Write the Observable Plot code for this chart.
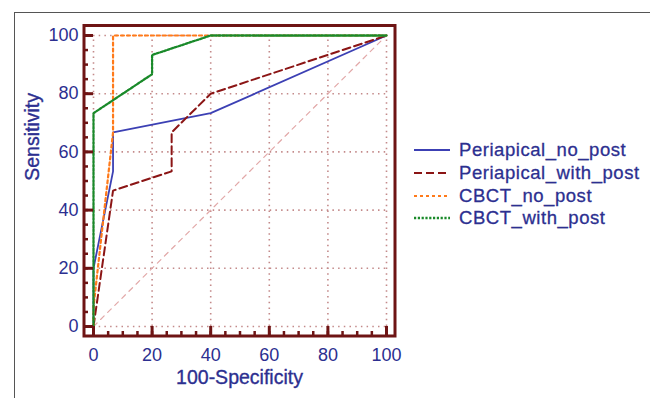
<!DOCTYPE html>
<html><head><meta charset="utf-8">
<script src="https://cdn.jsdelivr.net/npm/d3@7"></script>
<script src="https://cdn.jsdelivr.net/npm/@observablehq/plot@0.6"></script>
<style>
body{margin:0;background:#fff;font-family:"Liberation Sans",Arial,sans-serif;}
#wrap{position:relative;width:650px;height:398px;overflow:hidden;}
#outer{position:absolute;left:14px;top:12px;width:700px;height:400px;border-top:1.5px solid #555;border-left:1.5px solid #555;}
#chart{position:absolute;left:0;top:0;}
#legend{position:absolute;left:414px;top:139px;}
.row{display:flex;align-items:center;height:22.7px;}
.row span{font-size:18.5px;letter-spacing:0.55px;color:#2c2f90;margin-left:9px;white-space:nowrap;-webkit-text-stroke:0.3px #2c2f90;}
</style></head>
<body><div id="wrap"><div id="outer"></div><div id="chart"></div><div id="legend"></div></div>
<script>
const seriesNames = ["Periapical_no_post","Periapical_with_post","CBCT_no_post","CBCT_with_post"];
const periNoX = [0,0,6.67,6.67,40,100];
const periNoY = [0,20,53.3,66.7,73.3,100];
const periWithX = [0,6.67,26.67,26.67,40,100];
const periWithY = [0,46.7,53.3,66.7,80,100];
const cbctNoX = [0,0,6.67,6.67,100];
const cbctNoY = [0,6.67,66.7,100,100];
const cbctWithX = [0,0,20,20,40,100];
const cbctWithY = [0,73.3,86.7,93.3,100,100];
const diagX = [0,100];
const diagY = [0,100];
const majorTicks = [0,20,40,60,80,100];
const minorTicks = [0,5,10,15,20,25,30,35,40,45,50,55,60,65,70,75,80,85,90,95,100];
const domain = [0,100];

const colors = ["#3c40b4","#8b1515","#ff7a1a","#1a8a2a"];
const dashes = [null,"8,4","3,3","2.2,1.6"];
const widths = [1.8,2,2.2,2.3];

const toPts = (xs, ys) => xs.map((x,i)=>({x, y: ys[i]}));
const series = [toPts(periNoX,periNoY),toPts(periWithX,periWithY),toPts(cbctNoX,cbctNoY),toPts(cbctWithX,cbctWithY)];

const frameC = "#6e1414";
const gridC = "#c48a8a";
const textC = "#2c2f90";

const W = 650, H = 398;
const mL = 83.5, mT = 25, mR = W - 394.5, mB = H - 335.5;
const iL = 9.5, iR = 8.5, iT = 10, iB = 9.5;
const frameH = H - mT - mB, frameW = W - mL - mR;

const plot = Plot.plot({
  width: W, height: H,
  marginLeft: mL, marginRight: mR, marginTop: mT, marginBottom: mB,
  insetLeft: iL, insetRight: iR, insetTop: iT, insetBottom: iB,
  x: {domain, ticks: majorTicks},
  y: {domain, ticks: majorTicks},
  style: {fontFamily: '"Liberation Sans", Arial, sans-serif', background: "transparent"},
  marks: [
    Plot.ruleX(majorTicks, {x: d=>d, y1: domain[0], y2: domain[1], stroke: gridC, strokeWidth: 1.6, strokeDasharray: "1.5,4.2"}),
    Plot.ruleY(majorTicks, {y: d=>d, x1: domain[0], x2: domain[1], stroke: gridC, strokeWidth: 1.6, strokeDasharray: "1.5,4.2"}),
    Plot.line(toPts(diagX,diagY), {x:"x", y:"y", stroke: "#e2a8a8", strokeWidth: 1.2, strokeDasharray: "5,5"}),
    ...series.map((s,i)=>Plot.line(s, {x:"x", y:"y", stroke: colors[i], strokeWidth: widths[i], strokeDasharray: dashes[i], strokeLinejoin:"miter"})),
    Plot.tickX(minorTicks, {x: d=>d, insetTop: frameH - 4.5, stroke: frameC, strokeWidth: 2.5}),
    Plot.tickX(majorTicks, {x: d=>d, insetTop: frameH - 9.5, stroke: frameC, strokeWidth: 3}),
    Plot.tickY(minorTicks, {y: d=>d, insetRight: frameW - 4.5, stroke: frameC, strokeWidth: 2.5}),
    Plot.tickY(majorTicks, {y: d=>d, insetRight: frameW - 9.5, stroke: frameC, strokeWidth: 3}),
    Plot.frame({stroke: frameC, strokeWidth: 3}),
    Plot.axisX(majorTicks, {tickSize: 0, tickPadding: 12, fontSize: 18, fill: textC, stroke: textC, strokeWidth: 0.35, label: null}),
    Plot.axisY(majorTicks, {tickSize: 0, tickPadding: 5.5, fontSize: 18, fill: textC, stroke: textC, strokeWidth: 0.35, label: null}),
    Plot.text(["100-Specificity"], {frameAnchor: "bottom", dy: 47.5, text: d=>d, fontSize: 19.5, fill: textC, stroke: textC, strokeWidth: 0.35, style: {letterSpacing: "0.3px"}}),
    Plot.text(["Sensitivity"], {frameAnchor: "left", dx: -51, rotate: -90, text: d=>d, fontSize: 19.5, fill: textC, stroke: textC, strokeWidth: 0.35})
  ]
});
document.getElementById("chart").appendChild(plot);

const leg = document.getElementById("legend");
seriesNames.forEach((name,i)=>{
  const row = document.createElement("div");
  row.className = "row";
  const svg = d3.create("svg").attr("width",36).attr("height",10);
  svg.append("line").attr("x1",0).attr("x2",36).attr("y1",5).attr("y2",5)
    .attr("stroke",colors[i]).attr("stroke-width",widths[i])
    .attr("stroke-dasharray",dashes[i]);
  row.appendChild(svg.node());
  const sp = document.createElement("span");
  sp.textContent = name;
  row.appendChild(sp);
  leg.appendChild(row);
});
</script></body></html>
